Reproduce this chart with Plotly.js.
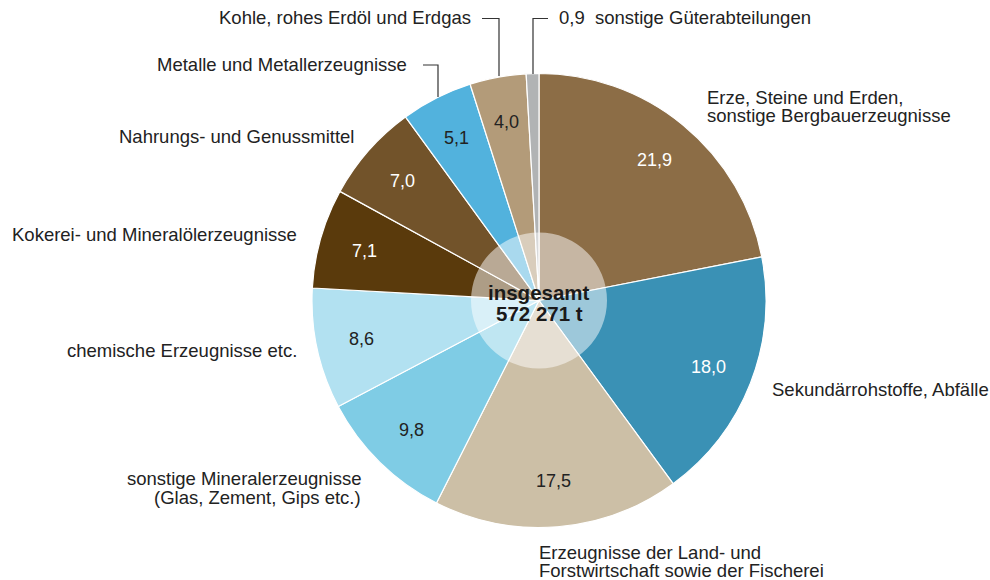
<!DOCTYPE html>
<html>
<head>
<meta charset="utf-8">
<script src="https://cdn.plot.ly/plotly-3.0.1.min.js"></script>
<style>html,body{margin:0;padding:0;background:#fff;}#chart{width:990px;height:580px;}</style>
</head>
<body>
<div id="chart"></div>
<script>
// ---- data ----
const categories = [
  "Erze, Steine und Erden,<br>sonstige Bergbauerzeugnisse",
  "Sekundärrohstoffe, Abfälle",
  "Erzeugnisse der Land- und<br>Forstwirtschaft sowie der Fischerei",
  "sonstige Mineralerzeugnisse<br>(Glas, Zement, Gips etc.)",
  "chemische Erzeugnisse etc.",
  "Kokerei- und Mineralölerzeugnisse",
  "Nahrungs- und Genussmittel",
  "Metalle und Metallerzeugnisse",
  "Kohle, rohes Erdöl und Erdgas",
  "sonstige Güterabteilungen"
];
const shares = [21.9, 18.0, 17.5, 9.8, 8.6, 7.1, 7.0, 5.1, 4.0, 0.9];
const totalLabel = "insgesamt";
const totalValue = "572 271 t";

// ---- styles ----
const sliceColors = ["#8C6D46", "#3A91B5", "#CCBFA6", "#7FCCE5", "#B2E1F1",
                     "#5A3A0C", "#72532A", "#52B2DD", "#B39B79", "#B1B3B4"];
const valueTextColors = ["#fff", "#fff", "#222", "#222", "#222", "#fff", "#fff", "#222", "#222", null];

const W = 990, H = 580;
const CX = 539, CY = 300.5, R = 227, HOLE_R = 68;
const FONT = "Liberation Sans, Arial, Helvetica, sans-serif";
const LABEL_SIZE = 18.5, LINE_GAP = 18.5;
const px = x => x / W;
const py = y => 1 - y / H;

// label placement (pixel, centre of first line) per category index
const labelPlacement = [
  {i: 0, x: 705, y: 97, xanchor: "left"},
  {i: 1, x: 770, y: 389, xanchor: "left"},
  {i: 2, x: 537, y: 552, xanchor: "left"},
  {i: 3, x: 363, y: 478.5, xanchor: "right"},
  {i: 4, x: 299, y: 350, xanchor: "right"},
  {i: 5, x: 299, y: 234, xanchor: "right"},
  {i: 6, x: 356, y: 136, xanchor: "right"},
  {i: 7, x: 409, y: 65, xanchor: "right"},
  {i: 8, x: 473, y: 18, xanchor: "right"},
  {i: 9, x: 557, y: 18, xanchor: "left", prefixValue: true}
];

const fmt = v => v.toFixed(1).replace(".", ",");

const annotations = [];
// value labels inside slices, positioned from the data angles
const sum = shares.reduce((a, b) => a + b, 0);
let cum = 0;
shares.forEach((v, i) => {
  const mid = (cum + v / 2) / sum;
  cum += v;
  if (!valueTextColors[i]) return;
  const a = 2 * Math.PI * mid;
  const x = CX + 0.8 * R * Math.sin(a);
  const y = CY - 0.8 * R * Math.cos(a);
  annotations.push({
    x: px(x), y: py(y), xref: "paper", yref: "paper",
    text: fmt(v), showarrow: false, xanchor: "center", yanchor: "middle",
    font: {family: FONT, size: 18, color: valueTextColors[i]}
  });
});
// category labels (one annotation per line for tight line spacing)
labelPlacement.forEach(p => {
  const txt = p.prefixValue ? fmt(shares[p.i]) + "&nbsp;&nbsp;" + categories[p.i] : categories[p.i];
  txt.split("<br>").forEach((line, k) => {
    annotations.push({
      x: px(p.x), y: py(p.y + k * LINE_GAP), xref: "paper", yref: "paper",
      text: line, showarrow: false, xanchor: p.xanchor, yanchor: "middle",
      font: {family: FONT, size: LABEL_SIZE, color: "#222"}
    });
  });
});
// total in centre
[totalLabel, totalValue].forEach((t, k) => {
  annotations.push({
    x: px(CX), y: py(292 + k * 21), xref: "paper", yref: "paper",
    text: "<b>" + t + "</b>",
    showarrow: false, xanchor: "center", yanchor: "middle",
    font: {family: FONT, size: 20.5, color: "#1a1a1a"}
  });
});

// leader lines (pixel paths converted to paper)
function path(points) {
  return points.map((p, k) => (k ? "L" : "M") + px(p[0]) + "," + py(p[1])).join(" ");
}
const lineStyle = {color: "#333", width: 1.2};
const shapes = [
  {type: "circle", xref: "paper", yref: "paper",
   x0: px(CX - HOLE_R), x1: px(CX + HOLE_R), y0: py(CY + HOLE_R), y1: py(CY - HOLE_R),
   fillcolor: "rgba(255,255,255,0.5)", line: {width: 0}, layer: "above"},
  {type: "path", xref: "paper", yref: "paper", path: path([[482, 18.5], [499, 18.5], [499, 76]]), line: lineStyle},
  {type: "path", xref: "paper", yref: "paper", path: path([[423, 65], [438, 65], [438, 97]]), line: lineStyle},
  {type: "path", xref: "paper", yref: "paper", path: path([[533, 74], [533, 18.5], [548, 18.5]]), line: lineStyle}
];

const trace = {
  type: "pie",
  labels: categories,
  values: shares,
  sort: false,
  direction: "clockwise",
  rotation: 0,
  textinfo: "none",
  hoverinfo: "skip",
  marker: {colors: sliceColors, line: {color: "#ffffff", width: 1.2}},
  domain: {x: [px(CX - R), px(CX + R)], y: [py(CY + R), py(CY - R)]},
  showlegend: false
};

const layout = {
  width: W, height: H,
  margin: {l: 0, r: 0, t: 0, b: 0},
  paper_bgcolor: "#fff",
  showlegend: false,
  annotations: annotations,
  shapes: shapes,
  font: {family: FONT}
};

Plotly.newPlot("chart", [trace], layout, {displayModeBar: false, staticPlot: true});
</script>
</body>
</html>
